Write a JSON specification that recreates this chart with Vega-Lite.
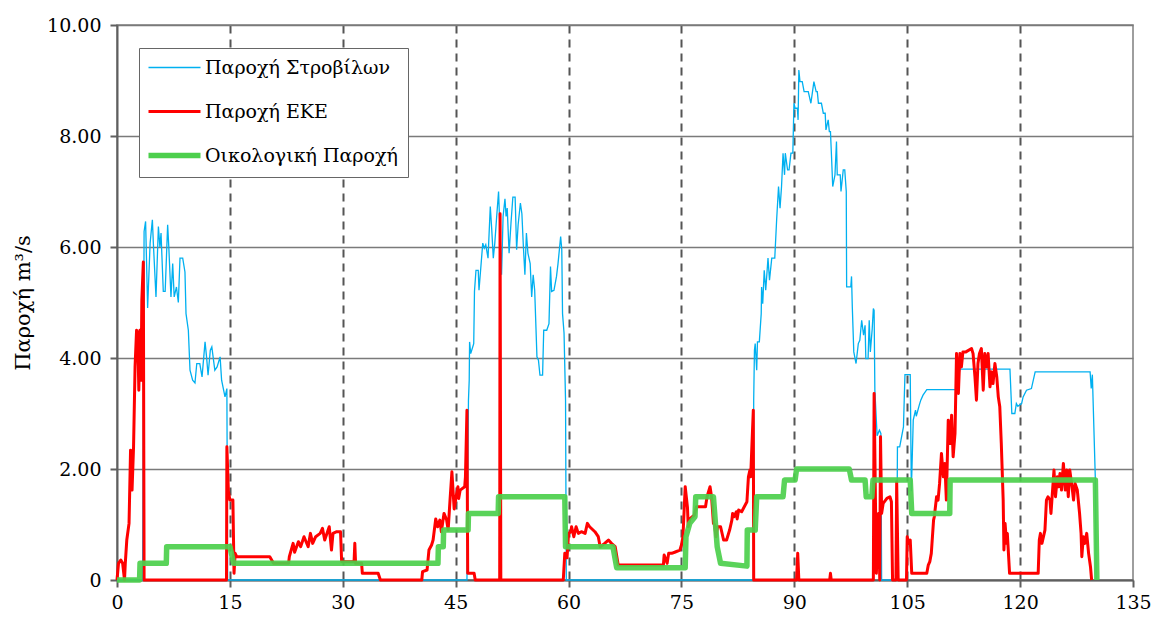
{
  "$schema": "https://vega.github.io/schema/vega-lite/v6.json",
  "width": 1016,
  "height": 555,
  "autosize": "none",
  "padding": {"left": 117, "top": 25, "right": 20, "bottom": 39},
  "background": "white",
  "config": {
    "font": "DejaVu Serif",
    "view": {"stroke": "#7f7f7f", "strokeWidth": 1.5},
    "axis": {
      "domainColor": "#5f5f5f", "domainWidth": 2,
      "tickColor": "#5f5f5f", "tickWidth": 2, "tickSize": 7,
      "labelFont": "DejaVu Serif", "labelFontSize": 19, "labelColor": "#000000",
      "titleFont": "DejaVu Serif", "titleFontSize": 21, "titleFontWeight": "normal", "titleColor": "#000000"
    },
    "legend": {"labelFont": "DejaVu Serif"}
  },
  "datasets": {
    "blue": [
      {"t":0,"q":0},{"t":3.4,"q":0},{"t":3.6,"q":6.28},{"t":3.8,"q":6.46},{"t":4.07,"q":4.9},{"t":4.4,"q":6.07},{"t":4.7,"q":6.49},{"t":4.83,"q":6.07},{"t":5.18,"q":5.1},{"t":5.5,"q":6.37},{"t":5.7,"q":6.0},{"t":5.85,"q":6.25},{"t":6.15,"q":5.2},{"t":6.4,"q":5.2},{"t":6.73,"q":6.4},{"t":6.9,"q":5.95},{"t":7.17,"q":5.1},{"t":7.4,"q":5.7},{"t":7.6,"q":5.1},{"t":7.9,"q":5.28},{"t":8.15,"q":5.0},{"t":8.37,"q":5.8},{"t":8.73,"q":5.8},{"t":9.03,"q":5.55},{"t":9.17,"q":4.8},{"t":9.48,"q":4.5},{"t":9.7,"q":3.78},{"t":10.05,"q":3.6},{"t":10.36,"q":3.55},{"t":10.6,"q":3.9},{"t":11.0,"q":3.9},{"t":11.3,"q":3.66},{"t":11.7,"q":4.29},{"t":11.9,"q":4.02},{"t":12.1,"q":3.69},{"t":12.4,"q":4.14},{"t":12.6,"q":4.2},{"t":13.0,"q":3.78},{"t":13.3,"q":3.84},{"t":13.7,"q":4.02},{"t":13.9,"q":3.6},{"t":14.35,"q":3.3},{"t":14.6,"q":3.45},{"t":14.7,"q":0},
      {"t":46.5,"q":0},{"t":46.7,"q":3.24},{"t":46.8,"q":3.6},{"t":46.85,"q":4.29},{"t":47.0,"q":4.08},{"t":47.4,"q":4.26},{"t":47.5,"q":5.2},{"t":47.7,"q":5.58},{"t":48.0,"q":5.58},{"t":48.1,"q":5.22},{"t":48.6,"q":6.07},{"t":48.8,"q":5.98},{"t":49.0,"q":6.04},{"t":49.3,"q":5.8},{"t":49.6,"q":6.73},{"t":49.8,"q":6.3},{"t":50.0,"q":5.8},{"t":50.2,"q":6.07},{"t":50.45,"q":6.55},{"t":50.7,"q":7.0},{"t":50.9,"q":6.25},{"t":51.1,"q":5.5},{"t":51.3,"q":6.55},{"t":51.55,"q":6.87},{"t":51.7,"q":6.55},{"t":51.85,"q":6.7},{"t":52.1,"q":5.89},{"t":52.35,"q":6.43},{"t":52.6,"q":6.9},{"t":52.9,"q":6.9},{"t":53.1,"q":5.95},{"t":53.3,"q":6.4},{"t":53.6,"q":6.79},{"t":53.8,"q":6.6},{"t":54.0,"q":6.0},{"t":54.2,"q":5.5},{"t":54.4,"q":6.25},{"t":54.6,"q":5.89},{"t":54.9,"q":5.7},{"t":55.1,"q":5.1},{"t":55.3,"q":5.5},{"t":55.5,"q":5.22},{"t":55.8,"q":4.02},{"t":56.0,"q":3.96},{"t":56.2,"q":3.69},{"t":56.55,"q":3.69},{"t":56.7,"q":4.5},{"t":57.1,"q":4.5},{"t":57.4,"q":4.62},{"t":57.6,"q":5.65},{"t":57.75,"q":5.2},{"t":58.06,"q":5.22},{"t":58.4,"q":5.47},{"t":58.6,"q":5.7},{"t":58.95,"q":6.19},{"t":59.1,"q":5.95},{"t":59.2,"q":4.8},{"t":59.4,"q":4.45},{"t":59.6,"q":3.24},{"t":59.7,"q":0},
      {"t":84.55,"q":0},{"t":84.6,"q":3.24},{"t":84.7,"q":4.14},{"t":84.8,"q":4.26},{"t":85.0,"q":3.78},{"t":85.1,"q":4.29},{"t":85.35,"q":4.29},{"t":85.6,"q":4.8},{"t":85.65,"q":5.28},{"t":85.8,"q":4.98},{"t":86.0,"q":5.58},{"t":86.2,"q":5.22},{"t":86.5,"q":5.8},{"t":86.7,"q":5.4},{"t":87.0,"q":5.8},{"t":87.4,"q":5.8},{"t":87.65,"q":6.49},{"t":87.9,"q":7.09},{"t":88.1,"q":6.7},{"t":88.3,"q":7.09},{"t":88.5,"q":7.69},{"t":88.7,"q":7.3},{"t":88.8,"q":7.69},{"t":89.1,"q":7.39},{"t":89.3,"q":7.39},{"t":89.55,"q":7.69},{"t":89.8,"q":7.69},{"t":89.95,"q":8.59},{"t":90.1,"q":8.5},{"t":90.4,"q":8.5},{"t":90.5,"q":8.29},{"t":90.6,"q":9.19},{"t":90.75,"q":8.98},{"t":91.05,"q":8.98},{"t":91.3,"q":8.8},{"t":91.85,"q":8.8},{"t":92.2,"q":8.59},{"t":92.6,"q":8.98},{"t":92.9,"q":8.8},{"t":93.05,"q":8.8},{"t":93.2,"q":8.59},{"t":93.6,"q":8.59},{"t":93.85,"q":8.41},{"t":94.1,"q":8.41},{"t":94.2,"q":8.11},{"t":94.5,"q":8.29},{"t":94.65,"q":8.08},{"t":94.8,"q":8.08},{"t":94.95,"q":7.6},{"t":95.1,"q":7.09},{"t":95.4,"q":7.3},{"t":95.6,"q":7.9},{"t":95.7,"q":7.3},{"t":96.1,"q":7.3},{"t":96.2,"q":7.0},{"t":96.5,"q":7.39},{"t":96.7,"q":7.39},{"t":96.9,"q":7.0},{"t":96.95,"q":5.28},{"t":97.5,"q":5.28},{"t":97.6,"q":5.47},{"t":97.7,"q":4.93},{"t":97.9,"q":4.11},{"t":98.2,"q":3.9},{"t":98.5,"q":4.26},{"t":98.7,"q":4.32},{"t":98.95,"q":4.68},{"t":99.2,"q":4.41},{"t":99.4,"q":4.59},{"t":99.5,"q":3.99},{"t":99.8,"q":3.99},{"t":99.95,"q":4.68},{"t":100.1,"q":4.11},{"t":100.35,"q":4.53},{"t":100.5,"q":4.89},{"t":100.6,"q":4.86},{"t":100.7,"q":3.42},{"t":101.0,"q":2.6},{"t":101.3,"q":2.7},{"t":101.5,"q":2.64},{"t":101.6,"q":0},
      {"t":103.6,"q":0},{"t":103.7,"q":2.4},{"t":104.0,"q":2.4},{"t":104.5,"q":2.76},{"t":104.6,"q":3.24},{"t":104.7,"q":3.7},{"t":105.4,"q":3.7},{"t":105.55,"q":1.6},{"t":105.8,"q":2.88},{"t":106.1,"q":3.06},{"t":106.2,"q":2.95},{"t":106.6,"q":3.15},{"t":106.8,"q":3.24},{"t":107.1,"q":3.33},{"t":107.6,"q":3.43},{"t":111.5,"q":3.43},{"t":112.0,"q":3.8},{"t":118.65,"q":3.8},{"t":118.9,"q":3.0},{"t":119.3,"q":3.0},{"t":119.5,"q":3.18},{"t":119.7,"q":3.13},{"t":120.2,"q":3.18},{"t":120.4,"q":3.3},{"t":120.85,"q":3.42},{"t":121.5,"q":3.45},{"t":122.0,"q":3.75},{"t":129.3,"q":3.75},{"t":129.45,"q":3.45},{"t":129.6,"q":3.7},{"t":130.0,"q":1.8},{"t":130.1,"q":0}
    ],
    "red": [
      {"t":0,"q":0},{"t":0.2,"q":0.3},{"t":0.5,"q":0.36},{"t":0.75,"q":0.3},{"t":1.0,"q":0},{"t":1.1,"q":0.3},{"t":1.3,"q":0.72},{"t":1.6,"q":1.02},{"t":1.8,"q":2.34},{"t":2.0,"q":1.62},{"t":2.2,"q":2.4},{"t":2.4,"q":3.84},{"t":2.6,"q":4.5},{"t":2.75,"q":4.45},{"t":2.9,"q":3.42},{"t":3.05,"q":4.5},{"t":3.2,"q":3.6},{"t":3.3,"q":5.04},{"t":3.5,"q":5.73},{"t":3.6,"q":0},
      {"t":14.55,"q":0},{"t":14.6,"q":2.4},{"t":14.8,"q":1.6},{"t":15.0,"q":1.44},{"t":15.4,"q":1.44},{"t":15.55,"q":0.12},{"t":15.7,"q":0.48},{"t":15.9,"q":0.42},{"t":20.3,"q":0.42},{"t":20.8,"q":0.3},{"t":22.8,"q":0.3},{"t":22.9,"q":0.42},{"t":23.4,"q":0.66},{"t":23.6,"q":0.5},{"t":24.1,"q":0.69},{"t":24.4,"q":0.6},{"t":24.85,"q":0.78},{"t":25.4,"q":0.6},{"t":25.7,"q":0.84},{"t":26.0,"q":0.66},{"t":26.4,"q":0.78},{"t":27.0,"q":0.84},{"t":27.3,"q":0.93},{"t":27.6,"q":0.72},{"t":28.2,"q":0.96},{"t":28.5,"q":0.54},{"t":28.7,"q":0.84},{"t":29.2,"q":0.87},{"t":29.7,"q":0.87},{"t":29.85,"q":0.33},{"t":31.5,"q":0.33},{"t":31.6,"q":0.66},{"t":31.7,"q":0.3},{"t":32.5,"q":0.3},{"t":32.6,"q":0.12},{"t":34.7,"q":0.12},{"t":35.0,"q":0},
      {"t":40.5,"q":0},{"t":40.6,"q":0.15},{"t":41.2,"q":0.18},{"t":41.45,"q":0.54},{"t":41.8,"q":0.63},{"t":42.0,"q":0.72},{"t":42.35,"q":1.1},{"t":42.6,"q":0.96},{"t":42.9,"q":1.08},{"t":43.1,"q":0.87},{"t":43.45,"q":1.2},{"t":43.8,"q":1.08},{"t":44.0,"q":0.9},{"t":44.25,"q":1.44},{"t":44.5,"q":1.95},{"t":44.8,"q":1.28},{"t":45.1,"q":1.53},{"t":45.3,"q":1.68},{"t":45.4,"q":1.47},{"t":45.6,"q":1.62},{"t":46.2,"q":1.68},{"t":46.3,"q":1.86},{"t":46.5,"q":3.06},{"t":46.6,"q":0.12},{"t":47.45,"q":0.12},{"t":47.6,"q":0},{"t":50.85,"q":0},{"t":50.9,"q":6.6},{"t":51.0,"q":0},
      {"t":59.3,"q":0},{"t":59.5,"q":0.48},{"t":59.8,"q":0.4},{"t":60.0,"q":0.84},{"t":60.3,"q":0.87},{"t":60.4,"q":0.96},{"t":60.7,"q":0.78},{"t":61.0,"q":0.96},{"t":61.3,"q":0.84},{"t":61.7,"q":0.87},{"t":62.2,"q":0.84},{"t":62.5,"q":1.02},{"t":62.8,"q":0.96},{"t":63.5,"q":0.87},{"t":63.95,"q":0.78},{"t":64.2,"q":0.6},{"t":64.8,"q":0.66},{"t":65.3,"q":0.72},{"t":65.7,"q":0.66},{"t":66.2,"q":0.6},{"t":66.6,"q":0.27},{"t":72.6,"q":0.27},{"t":72.7,"q":0.45},{"t":73.1,"q":0.3},{"t":73.3,"q":0.48},{"t":73.7,"q":0.48},{"t":74.1,"q":0.5},{"t":74.8,"q":0.54},{"t":75.0,"q":0.63},{"t":75.2,"q":0.78},{"t":75.5,"q":1.68},{"t":75.8,"q":1.31},{"t":75.9,"q":0.96},{"t":76.1,"q":1.1},{"t":76.7,"q":1.17},{"t":77.0,"q":1.32},{"t":78.2,"q":1.32},{"t":78.4,"q":1.5},{"t":78.8,"q":1.68},{"t":79.0,"q":1.5},{"t":79.25,"q":1.02},{"t":79.4,"q":1.0},{"t":79.6,"q":0.78},{"t":79.8,"q":0.96},{"t":80.2,"q":0.96},{"t":80.6,"q":0.72},{"t":81.0,"q":0.72},{"t":81.4,"q":0.9},{"t":81.7,"q":1.08},{"t":81.8,"q":1.2},{"t":82.0,"q":1.14},{"t":82.3,"q":1.23},{"t":82.4,"q":1.1},{"t":82.6,"q":1.26},{"t":83.0,"q":1.23},{"t":83.7,"q":1.41},{"t":83.9,"q":1.86},{"t":84.1,"q":1.98},{"t":84.2,"q":1.86},{"t":84.55,"q":3.06},{"t":84.6,"q":0},
      {"t":90.3,"q":0},{"t":90.45,"q":0.48},{"t":90.6,"q":0},{"t":94.7,"q":0},{"t":94.8,"q":0.12},{"t":94.9,"q":0},{"t":100.5,"q":0},{"t":100.6,"q":3.36},{"t":100.9,"q":0.12},{"t":101.2,"q":1.2},{"t":101.35,"q":0},{"t":101.45,"q":2.58},{"t":101.6,"q":1.2},{"t":101.8,"q":1.38},{"t":102.3,"q":1.47},{"t":102.7,"q":1.5},{"t":102.9,"q":1.41},{"t":103.05,"q":0},{"t":103.5,"q":0},{"t":103.6,"q":1.77},{"t":103.8,"q":0},{"t":104.9,"q":0},{"t":105.0,"q":0.78},{"t":105.2,"q":0.66},{"t":105.4,"q":0.72},{"t":105.6,"q":0.12},{"t":107.6,"q":0.12},{"t":107.8,"q":0.27},{"t":108.0,"q":0.33},{"t":108.2,"q":0.48},{"t":108.5,"q":1.08},{"t":108.6,"q":1.14},{"t":108.9,"q":1.5},{"t":109.1,"q":1.44},{"t":109.3,"q":1.74},{"t":109.55,"q":2.28},{"t":109.8,"q":1.86},{"t":110.0,"q":2.1},{"t":110.2,"q":1.44},{"t":110.45,"q":2.88},{"t":110.7,"q":2.46},{"t":110.9,"q":2.97},{"t":111.1,"q":2.22},{"t":111.35,"q":2.64},{"t":111.55,"q":4.08},{"t":111.8,"q":3.36},{"t":112.0,"q":4.08},{"t":112.2,"q":3.84},{"t":112.4,"q":4.11},{"t":112.8,"q":4.11},{"t":113.55,"q":4.17},{"t":113.75,"q":4.08},{"t":114.0,"q":3.66},{"t":114.2,"q":3.24},{"t":114.4,"q":3.9},{"t":114.6,"q":4.08},{"t":114.85,"q":4.17},{"t":115.1,"q":3.42},{"t":115.3,"q":4.08},{"t":115.6,"q":3.84},{"t":115.75,"q":4.08},{"t":116.0,"q":3.48},{"t":116.2,"q":3.75},{"t":116.4,"q":3.54},{"t":116.65,"q":3.9},{"t":116.9,"q":3.66},{"t":117.1,"q":3.3},{"t":117.3,"q":3.12},{"t":117.5,"q":2.46},{"t":117.75,"q":1.44},{"t":117.85,"q":0.54},{"t":118.0,"q":1.02},{"t":118.2,"q":0.66},{"t":118.3,"q":0.84},{"t":118.6,"q":0.12},{"t":122.4,"q":0.12},{"t":122.55,"q":0.72},{"t":122.7,"q":0.84},{"t":122.9,"q":0.66},{"t":123.3,"q":0.9},{"t":123.5,"q":1.44},{"t":123.7,"q":1.5},{"t":123.97,"q":1.44},{"t":124.1,"q":1.2},{"t":124.5,"q":1.98},{"t":124.7,"q":1.5},{"t":124.95,"q":1.86},{"t":125.1,"q":1.68},{"t":125.3,"q":1.92},{"t":125.5,"q":1.62},{"t":125.75,"q":2.1},{"t":126.0,"q":1.62},{"t":126.2,"q":1.98},{"t":126.4,"q":1.5},{"t":126.6,"q":1.98},{"t":126.9,"q":1.68},{"t":127.1,"q":1.44},{"t":127.3,"q":1.74},{"t":127.6,"q":1.62},{"t":127.9,"q":1.2},{"t":128.1,"q":0.84},{"t":128.2,"q":0.42},{"t":128.4,"q":0.78},{"t":128.6,"q":0.66},{"t":128.85,"q":0.84},{"t":129.1,"q":0.48},{"t":129.35,"q":0.24},{"t":129.5,"q":0}
    ],
    "green": [
      {"t":0,"q":0},{"t":3.0,"q":0},{"t":3.06,"q":0.3},{"t":6.55,"q":0.3},{"t":6.6,"q":0.6},{"t":15.0,"q":0.6},{"t":15.5,"q":0.3},{"t":42.65,"q":0.3},{"t":42.7,"q":0.6},{"t":43.35,"q":0.6},{"t":43.4,"q":0.9},{"t":46.65,"q":0.9},{"t":46.7,"q":1.2},{"t":50.65,"q":1.2},{"t":50.7,"q":1.5},{"t":59.5,"q":1.5},{"t":59.6,"q":0.6},{"t":65.9,"q":0.6},{"t":66.4,"q":0.22},{"t":75.5,"q":0.22},{"t":75.6,"q":0.78},{"t":76.1,"q":1.02},{"t":76.8,"q":1.14},{"t":76.9,"q":1.5},{"t":79.25,"q":1.5},{"t":79.75,"q":0.6},{"t":80.2,"q":0.3},{"t":83.7,"q":0.25},{"t":83.75,"q":0.9},{"t":84.8,"q":0.9},{"t":85.0,"q":1.5},{"t":88.5,"q":1.5},{"t":88.7,"q":1.8},{"t":90.1,"q":1.8},{"t":90.3,"q":2.0},{"t":97.3,"q":2.0},{"t":97.6,"q":1.8},{"t":99.4,"q":1.8},{"t":99.55,"q":1.5},{"t":100.3,"q":1.5},{"t":100.45,"q":1.8},{"t":105.4,"q":1.8},{"t":105.6,"q":1.2},{"t":110.65,"q":1.2},{"t":110.7,"q":1.8},{"t":130.0,"q":1.8},{"t":130.2,"q":0}
    ]
  },
  "encoding": {
    "x": {
      "field": "t", "type": "quantitative",
      "scale": {"domain": [0, 135], "nice": false, "zero": false},
      "axis": {
        "title": null, "values": [0, 15, 30, 45, 60, 75, 90, 105, 120, 135],
        "grid": true, "gridDash": [8, 6], "gridColor": "#555555", "gridWidth": 2,
        "gridOpacity": {"condition": {"test": "datum.value === 0 || datum.value === 135", "value": 0}, "value": 1},
        "labelPadding": 6, "labelFlush": false
      }
    },
    "y": {
      "field": "q", "type": "quantitative",
      "scale": {"domain": [0, 10], "nice": false},
      "axis": {
        "title": "Παροχή m³/s", "values": [0, 2, 4, 6, 8, 10],
        "labelExpr": "datum.value === 0 ? '0' : format(datum.value, '.2f')",
        "grid": true, "gridColor": "#7a7a7a", "gridWidth": 1.6,
        "labelPadding": 9, "titlePadding": 13
      }
    },
    "color": {
      "type": "nominal",
      "scale": {
        "domain": ["Παροχή Στροβίλων", "Παροχή ΕΚΕ", "Οικολογική Παροχή"],
        "range": ["#00B0F0", "#FF0000", "#4CCF4C"]
      },
      "legend": {
        "title": null, "orient": "none", "legendX": 22, "legendY": 23,
        "direction": "vertical", "gridAlign": "all",
        "symbolType": "M-1,0L4.2,0", "symbolSize": 400, "symbolStrokeWidth": 3,
        "labelFontSize": 19, "labelColor": "#000000",
        "labelOffset": 37, "rowPadding": 21, "padding": 10,
        "strokeColor": "#666666", "fillColor": "white",
        "labelLimit": 400,
        "symbolOpacity": 1,
        "symbolFillColor": "transparent",
        "encode": {
          "symbols": {
            "update": {
              "strokeWidth": {"signal": "datum.value === 'Οικολογική Παροχή' ? 5.5 : datum.value === 'Παροχή ΕΚΕ' ? 3 : 1.4"}
            }
          }
        }
      }
    }
  },
  "layer": [
    {
      "data": {"name": "blue"},
      "mark": {"type": "line", "strokeWidth": 1.3, "interpolate": "linear"},
      "encoding": {"color": {"datum": "Παροχή Στροβίλων", "type": "nominal"}}
    },
    {
      "data": {"name": "red"},
      "mark": {"type": "line", "strokeWidth": 3, "interpolate": "linear", "strokeJoin": "round"},
      "encoding": {"color": {"datum": "Παροχή ΕΚΕ", "type": "nominal"}}
    },
    {
      "data": {"name": "green"},
      "mark": {"type": "line", "strokeWidth": 5.5, "opacity": 0.92, "interpolate": "linear", "strokeJoin": "round"},
      "encoding": {"color": {"datum": "Οικολογική Παροχή", "type": "nominal"}}
    }
  ]
}
